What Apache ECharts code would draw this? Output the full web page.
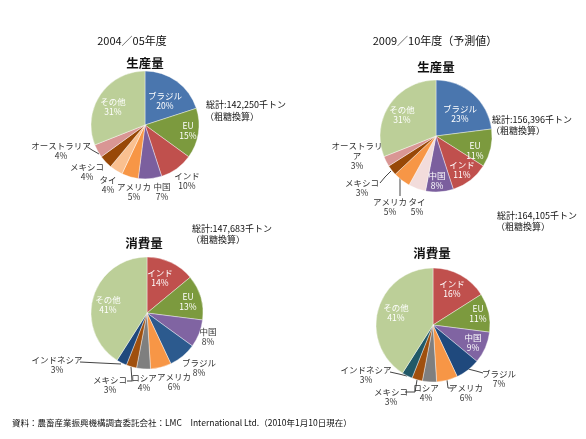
<!DOCTYPE html>
<html>
<head>
<meta charset="utf-8">
<script src="https://cdn.jsdelivr.net/npm/echarts@6/dist/echarts.min.js"></script>
<style>
  html, body { margin: 0; padding: 0; background: #fff; }
  #graphics { width: 586px; height: 439px; }
</style>
</head>
<body>
<div id="graphics"></div>
<script>
// data (percent of world total)
const prod0405Names = ['ブラジル', 'EU', 'インド', '中国', 'アメリカ', 'タイ', 'メキシコ', 'オーストラリア', 'その他'];
const prod0405Values = [20, 15, 10, 7, 5, 4, 4, 4, 31];

const prod0910Names = ['ブラジル', 'EU', 'インド', '中国', 'タイ', 'アメリカ', 'メキシコ', 'オーストラリア', 'その他'];
const prod0910Values = [23, 11, 11, 8, 5, 5, 3, 3, 31];

const cons0405Names = ['インド', 'EU', '中国', 'ブラジル', 'アメリカ', 'ロシア', 'メキシコ', 'インドネシア', 'その他'];
const cons0405Values = [14, 13, 8, 8, 6, 4, 3, 3, 41];

const cons0910Names = ['インド', 'EU', '中国', 'ブラジル', 'アメリカ', 'ロシア', 'メキシコ', 'インドネシア', 'その他'];
const cons0910Values = [16, 11, 9, 7, 6, 4, 3, 3, 41];

const totals = ['142,250', '156,396', '147,683', '164,105'];

// colours per slice
const prod0405Colors = ['#4a76ae', '#7c9a3e', '#c0504d', '#7b5f9e', '#f79646', '#fac090', '#984807', '#d99694', '#bccf98'];
const prod0910Colors = ['#4a76ae', '#7c9a3e', '#c0504d', '#7b5f9e', '#f2dcdb', '#f79646', '#984807', '#d99694', '#bccf98'];
const cons0405Colors = ['#c0504d', '#7c9a3e', '#8064a2', '#2c5a8e', '#f79646', '#7f7f7f', '#a0500e', '#1f497d', '#bccf98'];
const cons0910Colors = ['#c0504d', '#7c9a3e', '#8064a2', '#1f497d', '#f79646', '#7f7f7f', '#a0500e', '#215968', '#bccf98'];

// label placement (label centre, optional leader line), like Excel's best fit
const labelSpots = [
    {
        'ブラジル': [165, 101], 'EU': [188, 131], 'その他': [113, 107],
        'インド': [187, 181], '中国': [162, 192], 'アメリカ': [134, 192], 'タイ': [108, 185], 'メキシコ': [87, 172],
        'オーストラリア': [61, 151, [[99, 154], [92, 150], [86, 146]]]
    },
    {
        'ブラジル': [460, 114], 'EU': [475, 151], 'インド': [462, 170], '中国': [437, 181], 'その他': [402, 115],
        'オーストラリア': [357, 156], 'メキシコ': [362, 188, [[391, 171], [385, 177], [380, 183]]],
        'アメリカ': [390, 207, [[400, 178], [400, 187], [400, 196]]], 'タイ': [417, 207]
    },
    {
        'インド': [160, 278], 'EU': [188, 302], 'その他': [108, 305],
        '中国': [208, 337], 'ブラジル': [199, 368], 'アメリカ': [174, 382], 'ロシア': [144, 383],
        'メキシコ': [110, 385, [[131, 367], [132, 381], [127, 381]]],
        'インドネシア': [57, 365, [[121, 364], [100, 363], [80, 362]]]
    },
    {
        'インド': [452, 289], 'EU': [478, 314], '中国': [473, 343], 'その他': [396, 313],
        'ブラジル': [499, 379, [[468, 369], [476, 371], [483, 373]]],
        'アメリカ': [466, 393, [[447, 380], [448, 388], [453, 388]]], 'ロシア': [426, 393],
        'メキシコ': [391, 397, [[417, 380], [415, 392], [405, 392]]],
        'インドネシア': [366, 375, [[407, 376], [399, 374], [390, 372]]]
    }
];

const FONT = '"Noto Sans CJK JP", sans-serif';

function makePie(idx, names, values, colors, inside, center, radius) {
    const data = names.map(function (n, i) {
        const isIn = inside.indexOf(n) >= 0;
        return {
            name: n,
            value: values[i],
            itemStyle: { color: colors[i] },
            label: isIn ? { position: 'inside', color: '#fff' } : { position: 'outside', color: '#333' },
            labelLine: { show: !!labelSpots[idx][n][2] }
        };
    });
    return {
        type: 'pie',
        center: center,
        radius: radius,
        startAngle: 90,
        clockwise: true,
        animation: false,
        avoidLabelOverlap: false,
        label: {
            formatter: function (p) {
                const n = (idx === 1 && p.name === 'オーストラリア') ? 'オーストラリ\nア' : p.name;
                return n + '\n' + p.value + '%';
            },
            fontFamily: FONT,
            fontSize: 8.5,
            lineHeight: 10,
            align: 'center'
        },
        labelLine: { length: 6, length2: 4, lineStyle: { color: '#444', width: 1 } },
        labelLayout: function (params) {
            const s = labelSpots[idx][names[params.dataIndex]];
            const out = { x: s[0], y: s[1], align: 'center', verticalAlign: 'middle', hideOverlap: false, moveOverlap: false };
            if (s[2]) out.labelLinePoints = s[2];
            return out;
        },
        itemStyle: { borderColor: '#fff', borderWidth: 0.4 },
        emphasis: { disabled: true },
        data: data
    };
}

function txt(x, y, s, size, bold, align) {
    return {
        type: 'text', x: x, y: y,
        style: {
            text: s, fontFamily: FONT, fontSize: size, fontWeight: bold ? 'bold' : 'normal',
            fill: '#111', textAlign: align || 'left', textVerticalAlign: 'middle'
        }
    };
}

var myChart = echarts.init(document.getElementById('graphics'));

var option = {
    backgroundColor: '#fff',
    graphic: [
        txt(132, 41, '2004／05年度', 11, false, 'center'),
        txt(435, 41, '2009／10年度（予測値）', 11, false, 'center'),
        txt(145, 63, '生産量', 12.5, true, 'center'),
        txt(436, 67, '生産量', 12.5, true, 'center'),
        txt(144, 243, '消費量', 12.5, true, 'center'),
        txt(432, 253, '消費量', 12.5, true, 'center'),
        txt(206, 105, '総計:' + totals[0] + '千トン', 9),
        txt(205, 117, '（粗糖換算）', 9),
        txt(492, 120, '総計:' + totals[1] + '千トン', 9),
        txt(491, 131, '（粗糖換算）', 9),
        txt(192, 229, '総計:' + totals[2] + '千トン', 9),
        txt(191, 240, '（粗糖換算）', 9),
        txt(497, 216, '総計:' + totals[3] + '千トン', 9),
        txt(496, 227, '（粗糖換算）', 9),
        txt(12, 423, '資料：農畜産業振興機構調査委託会社：LMC　International Ltd.（2010年1月10日現在）', 8.5)
    ],
    series: [
        makePie(0, prod0405Names, prod0405Values, prod0405Colors, ['ブラジル', 'EU', 'その他'], [145, 125], 54),
        makePie(1, prod0910Names, prod0910Values, prod0910Colors, ['ブラジル', 'EU', 'インド', '中国', 'その他'], [436, 136], 56),
        makePie(2, cons0405Names, cons0405Values, cons0405Colors, ['インド', 'EU', 'その他'], [147, 313], 56),
        makePie(3, cons0910Names, cons0910Values, cons0910Colors, ['インド', 'EU', '中国', 'その他'], [433, 325], 57)
    ]
};

myChart.setOption(option);
</script>
</body>
</html>
